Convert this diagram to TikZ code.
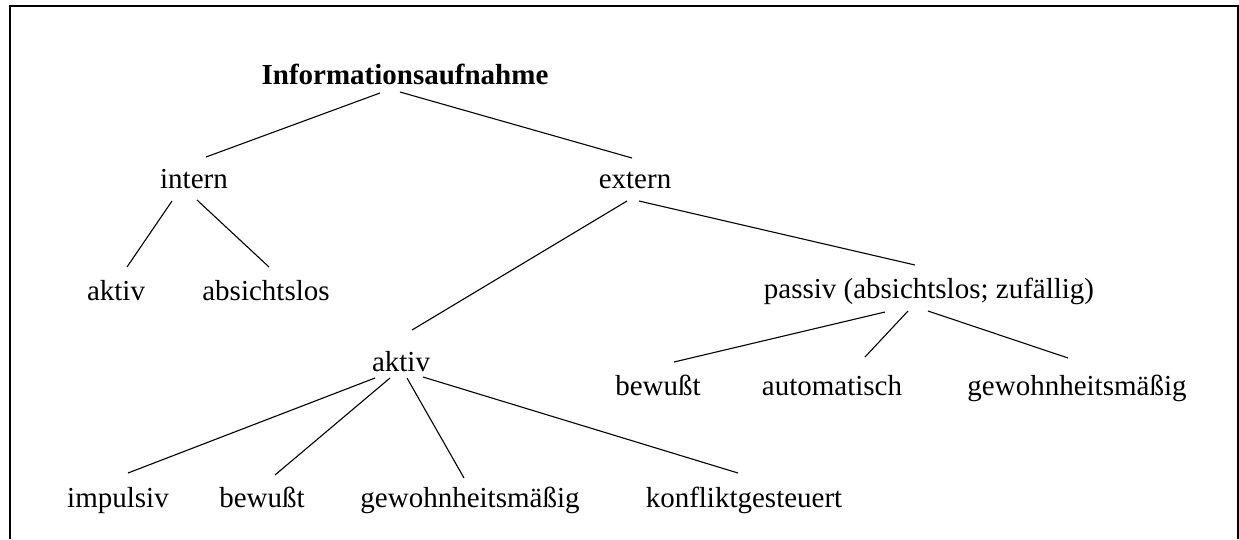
\documentclass[tikz,border=0pt]{standalone}
\usepackage{fontspec}
\setmainfont{Liberation Serif}
\usetikzlibrary{calc}
\tikzset{
  lbl/.style={anchor=base, inner sep=0pt, font=\fontsize{29}{34}\selectfont},
  edge/.style={line width=1.1pt},
  frame/.style={line width=2pt}
}
\begin{document}
\begin{tikzpicture}[x=1pt, y=-1pt]
\useasboundingbox (0,0) rectangle (1239,539);
% open frame (no bottom edge)
\draw[frame] (10,539) -- (10,6) -- (1238,6) -- (1238,539);

% nodes
\node[lbl] (info) at (405,84) {\textbf{Informationsaufnahme}};
\node[lbl] (intern) at (194,188) {intern};
\node[lbl] (extern) at (635,188) {extern};
\node[lbl] (aktivL) at (116,300) {aktiv};
\node[lbl] (absL) at (266,300) {absichtslos};
\node[lbl] (passiv) at (929,298) {passiv (absichtslos; zufällig)};
\node[lbl] (aktivM) at (401,371) {aktiv};
\node[lbl] (bewR) at (658,395) {bewußt};
\node[lbl] (auto) at (832,395) {automatisch};
\node[lbl] (gewR) at (1077,395) {gewohnheitsmäßig};
\node[lbl] (impuls) at (118,507) {impulsiv};
\node[lbl] (bewL) at (262,507) {bewußt};
\node[lbl] (gewL) at (470,507) {gewohnheitsmäßig};
\node[lbl] (konf) at (744,507) {konfliktgesteuert};

% connectors
\draw[edge] ($(info.base)+(-25,9)$) -- ($(intern.base)+(12,-31)$);
\draw[edge] ($(info.base)+(-5,8)$) -- ($(extern.base)+(-3,-30)$);
\draw[edge] ($(intern.base)+(-22,13)$) -- ($(aktivL.base)+(11,-33)$);
\draw[edge] ($(intern.base)+(3,12)$) -- ($(absL.base)+(3,-33)$);
\draw[edge] ($(extern.base)+(-8,13)$) -- ($(aktivM.base)+(11,-41)$);
\draw[edge] ($(extern.base)+(4,13)$) -- ($(passiv.base)+(-14,-33)$);
\draw[edge] ($(passiv.base)+(-44,14)$) -- ($(bewR.base)+(16,-33)$);
\draw[edge] ($(passiv.base)+(-21,13)$) -- ($(auto.base)+(33,-38)$);
\draw[edge] ($(passiv.base)+(-1,13)$) -- ($(gewR.base)+(-9,-37)$);
\draw[edge] ($(aktivM.base)+(-26,7)$) -- ($(impuls.base)+(10,-34)$);
\draw[edge] ($(aktivM.base)+(-11,7)$) -- ($(bewL.base)+(13,-32)$);
\draw[edge] ($(aktivM.base)+(6,7)$) -- ($(gewL.base)+(-6,-29)$);
\draw[edge] ($(aktivM.base)+(22,6)$) -- ($(konf.base)+(-6,-34)$);
\end{tikzpicture}
\end{document}
